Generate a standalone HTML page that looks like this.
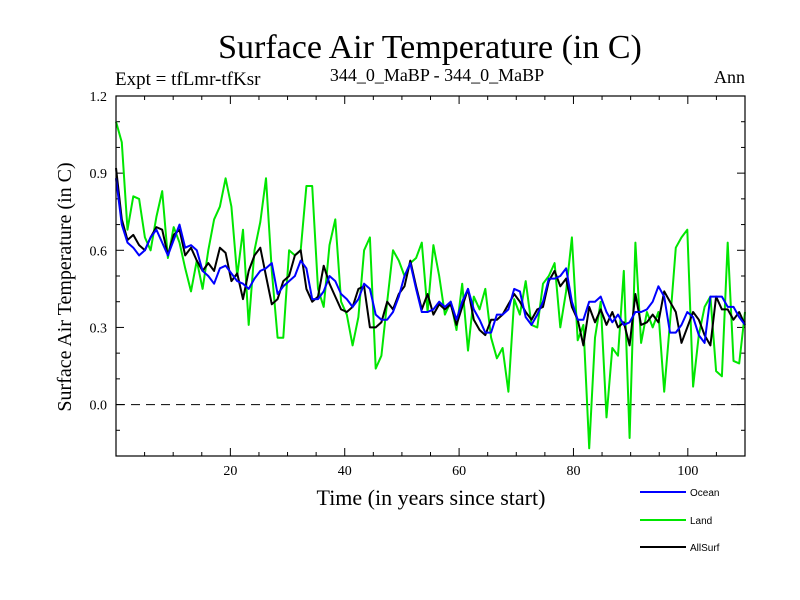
<!DOCTYPE html>
<html><head><meta charset="utf-8"><style>body{margin:0;background:#fff}svg{display:block}.sf{font-family:"Liberation Serif",serif}.ss{font-family:"Liberation Sans",sans-serif}</style></head>
<body>
<svg width="800" height="600" id="s">
<text class="sf" x="430" y="58" font-size="34" text-anchor="middle">Surface Air Temperature (in C)</text>
<text class="sf" x="115" y="85" font-size="19">Expt = tfLmr-tfKsr</text>
<text class="sf" x="437" y="81" font-size="18" text-anchor="middle">344_0_MaBP - 344_0_MaBP</text>
<text class="sf" x="745" y="83" font-size="18" text-anchor="end">Ann</text>
<text class="sf" x="431" y="505" font-size="22" text-anchor="middle">Time (in years since start)</text>
<text class="sf" transform="translate(71,287) rotate(-90)" font-size="20" text-anchor="middle">Surface Air Temperature (in C)</text>
<g id="plot"></g>
<rect x="116" y="96" width="629" height="360" fill="none" stroke="#000" stroke-width="1.2"/>
</svg>
<script>
const ocean=[0.88,0.70,0.63,0.61,0.58,0.60,0.65,0.68,0.63,0.58,0.64,0.70,0.61,0.62,0.60,0.52,0.50,0.47,0.53,0.54,0.51,0.48,0.47,0.45,0.49,0.52,0.53,0.55,0.43,0.46,0.48,0.50,0.56,0.53,0.41,0.41,0.44,0.50,0.48,0.43,0.41,0.38,0.41,0.47,0.45,0.35,0.33,0.33,0.36,0.42,0.50,0.55,0.45,0.36,0.36,0.37,0.40,0.38,0.40,0.33,0.40,0.45,0.37,0.33,0.28,0.28,0.35,0.35,0.37,0.45,0.44,0.34,0.31,0.35,0.40,0.49,0.49,0.50,0.53,0.40,0.33,0.33,0.40,0.40,0.42,0.36,0.32,0.35,0.31,0.32,0.36,0.36,0.37,0.40,0.46,0.42,0.28,0.28,0.31,0.36,0.34,0.27,0.24,0.42,0.42,0.42,0.38,0.38,0.34,0.31];
const land=[1.10,1.02,0.68,0.81,0.80,0.65,0.60,0.73,0.83,0.57,0.69,0.63,0.53,0.44,0.56,0.45,0.60,0.72,0.77,0.88,0.77,0.50,0.68,0.31,0.60,0.71,0.88,0.52,0.26,0.26,0.60,0.58,0.60,0.85,0.85,0.45,0.38,0.62,0.72,0.40,0.35,0.23,0.34,0.60,0.65,0.14,0.19,0.40,0.60,0.56,0.50,0.55,0.57,0.63,0.36,0.62,0.50,0.35,0.40,0.29,0.47,0.21,0.42,0.37,0.45,0.26,0.18,0.22,0.05,0.41,0.35,0.48,0.31,0.30,0.47,0.50,0.55,0.30,0.44,0.65,0.25,0.31,-0.17,0.26,0.40,-0.05,0.22,0.19,0.52,-0.13,0.63,0.24,0.36,0.30,0.36,0.05,0.32,0.61,0.65,0.68,0.07,0.27,0.38,0.42,0.13,0.11,0.63,0.17,0.16,0.36];
const allsurf=[0.92,0.72,0.64,0.66,0.62,0.60,0.65,0.69,0.68,0.58,0.66,0.68,0.58,0.61,0.56,0.52,0.55,0.52,0.61,0.59,0.48,0.51,0.41,0.52,0.58,0.61,0.50,0.39,0.41,0.48,0.50,0.58,0.60,0.45,0.40,0.42,0.54,0.47,0.42,0.37,0.36,0.38,0.45,0.46,0.30,0.30,0.32,0.40,0.37,0.43,0.46,0.56,0.46,0.37,0.43,0.35,0.39,0.37,0.39,0.31,0.38,0.45,0.33,0.29,0.27,0.33,0.33,0.35,0.39,0.43,0.40,0.36,0.33,0.37,0.38,0.48,0.52,0.46,0.49,0.38,0.33,0.23,0.38,0.32,0.37,0.31,0.36,0.30,0.32,0.23,0.43,0.31,0.32,0.35,0.32,0.44,0.40,0.36,0.24,0.30,0.36,0.33,0.27,0.23,0.42,0.37,0.37,0.33,0.36,0.31];
const xTicks=[20,40,60,80,100];
const yTicks=[0.0,0.3,0.6,0.9,1.2];
const L=116,R=745,T=96,B=456,XMIN=0,XMAX=110,YMIN=-0.2,YMAX=1.2;
const NS="http://www.w3.org/2000/svg",g=document.getElementById('plot');
function xs(v){return L+(v-XMIN)/(XMAX-XMIN)*(R-L);}
function ys(v){return B-(v-YMIN)/(YMAX-YMIN)*(B-T);}
function mk(t,a){const e=document.createElementNS(NS,t);for(const k in a)e.setAttribute(k,a[k]);g.appendChild(e);return e;}
for(let v=5;v<110;v+=5){const len=(v%20===0)?8:4;
 let e=mk('line',{x1:xs(v),x2:xs(v),y1:B,y2:B-len,stroke:'#000'});
 e=mk('line',{x1:xs(v),x2:xs(v),y1:T,y2:T+len,stroke:'#000'});}
for(let k=-1;k<=11;k++){const v=k/10;const len=(k%3===0)?8:4;
 let e=mk('line',{x1:L,x2:L+len,y1:ys(v),y2:ys(v),stroke:'#000'});
 e=mk('line',{x1:R,x2:R-len,y1:ys(v),y2:ys(v),stroke:'#000'});}
xTicks.forEach(v=>{const e=mk('text',{x:xs(v),y:B+19,'font-size':14,'text-anchor':'middle','class':'sf'});e.textContent=v;
 });
yTicks.forEach(v=>{const e=mk('text',{x:L-9,y:ys(v)+5,'font-size':14,'text-anchor':'end','class':'sf'});e.textContent=v.toFixed(1);
 });
let z=mk('line',{x1:L,x2:R,y1:ys(0),y2:ys(0),stroke:'#000','stroke-dasharray':'9,6'});

function series(d,c,name){const n=d.length;
 const p=d.map((v,i)=>xs(XMIN+i*(XMAX-XMIN)/(n-1)).toFixed(1)+','+ys(v).toFixed(1)).join(' ');
 const e=mk('polyline',{points:p,fill:'none',stroke:c,'stroke-width':2,'stroke-linejoin':'round'});
 }
series(land,'#00e600','land-line');series(allsurf,'#000','allsurf-line');series(ocean,'#0000ff','ocean-line');
[['Ocean','#0000ff',492],['Land','#00e600',520],['AllSurf','#000',547]].forEach(([n,c,y])=>{
 const l=mk('line',{x1:640,x2:686,y1:y,y2:y,stroke:c,'stroke-width':2});
 
 const t=mk('text',{x:690,y:y+4,'font-size':10,'class':'ss'});t.textContent=n;
 });
</script>
</body></html>
